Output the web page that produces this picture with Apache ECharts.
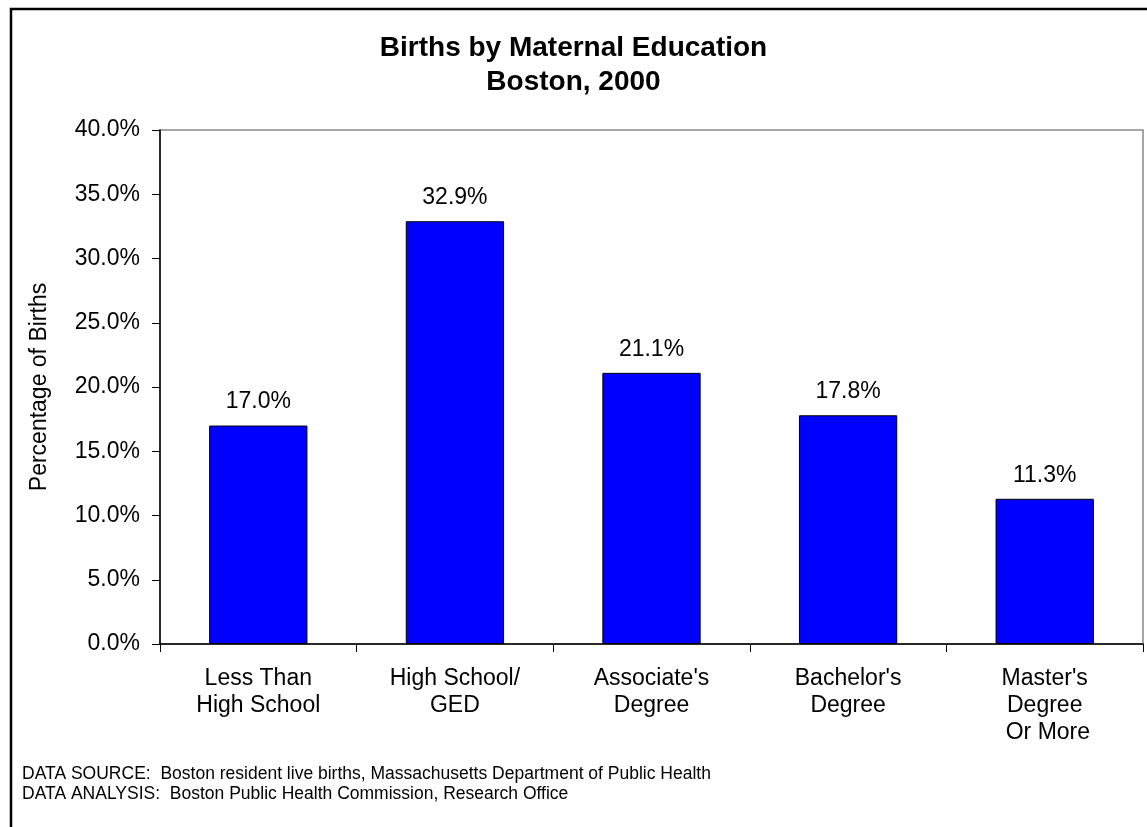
<!DOCTYPE html>
<html>
<head>
    <meta charset="UTF-8">
    <title>Births by Maternal Education</title>
    <script src="https://cdn.jsdelivr.net/npm/echarts@6/dist/echarts.min.js"></script>
    <style>
        html, body { margin: 0; padding: 0; background: #fff; }
        #chart { width: 1147px; height: 827px; }
    </style>
</head>
<body>
<div id="chart"></div>
<script>
    const CATEGORIES = ['Less Than\nHigh School', 'High School/\nGED', "Associate's\nDegree", "Bachelor's\nDegree", "Master's\nDegree\n Or More"]
    const PERCENTS = [17.0, 32.9, 21.1, 17.8, 11.3]
    const FONT = 'Arial, "Liberation Sans", sans-serif'

    let chart = echarts.init(document.getElementById('chart'), null, {renderer: 'canvas'})
    chart.setOption({
        animation: false,
        backgroundColor: '#fff',
        title: {
            text: 'Births by Maternal Education\nBoston, 2000',
            left: 'center',
            top: 26,
            textStyle: {fontFamily: FONT, fontSize: 28, fontWeight: 'bold', color: '#000', lineHeight: 34}
        },
        graphic: [
            { // outer chart border, runs off the right and bottom of the picture
                type: 'rect',
                shape: {x: 11, y: 9, width: 1200, height: 900},
                style: {fill: 'none', stroke: '#000', lineWidth: 2.5}
            },
            {
                type: 'text', left: 22, top: 765,
                style: {text: 'DATA SOURCE:  Boston resident live births, Massachusetts Department of Public Health', font: '17.5px ' + FONT, fill: '#000'}
            },
            {
                type: 'text', left: 22, top: 785,
                style: {text: 'DATA ANALYSIS:  Boston Public Health Commission, Research Office', font: '17.5px ' + FONT, fill: '#000'}
            }
        ],
        grid: {
            left: 160, top: 130, right: 4, bottom: 183,
            show: true, borderColor: '#888', borderWidth: 1.5
        },
        xAxis: {
            type: 'category',
            data: CATEGORIES,
            axisLine: {lineStyle: {color: '#000', width: 1.5}},
            axisTick: {show: true, length: 8, alignWithLabel: false, lineStyle: {color: '#000'}},
            axisLabel: {fontFamily: FONT, fontSize: 23, color: '#000', lineHeight: 27, margin: 21, interval: 0}
        },
        yAxis: {
            type: 'value',
            min: 0, max: 40, interval: 5,
            name: 'Percentage of Births',
            nameLocation: 'middle',
            nameGap: 109,
            nameTextStyle: {fontFamily: FONT, fontSize: 23, color: '#000'},
            axisLine: {show: true, lineStyle: {color: '#000', width: 1.5}},
            axisTick: {show: true, length: 8, lineStyle: {color: '#000'}},
            splitLine: {show: false},
            axisLabel: {
                fontFamily: FONT, fontSize: 23, color: '#000', margin: 20,
                formatter: v => v.toFixed(1) + '%'
            }
        },
        series: [{
            type: 'bar',
            data: PERCENTS,
            barWidth: '50%',
            itemStyle: {color: '#0000ff', borderColor: '#000', borderWidth: 1},
            label: {
                show: true, position: 'top', distance: 12,
                fontFamily: FONT, fontSize: 23, color: '#000',
                formatter: p => p.value.toFixed(1) + '%'
            }
        }]
    })
</script>
</body>
</html>
